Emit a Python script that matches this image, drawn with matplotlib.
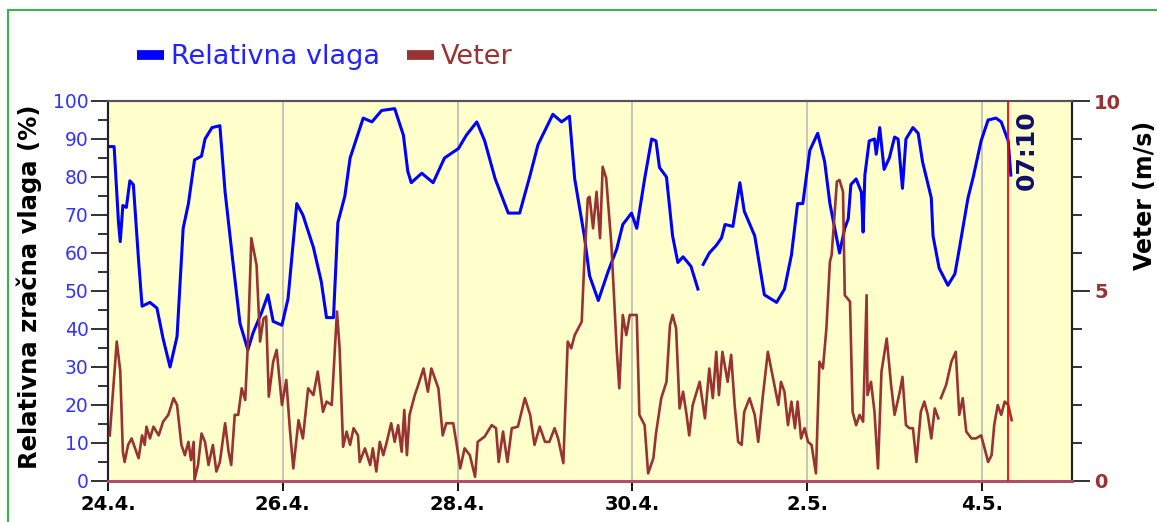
import matplotlib
matplotlib.use('Agg')
import matplotlib.pyplot as plt
import numpy as np
from matplotlib.lines import Line2D

# ---------------- data (days since 24.4. 00:00) ----------------
tick_days = [0, 2, 4, 6, 8, 10]
tick_labels = ['24.4.', '26.4.', '28.4.', '30.4.', '2.5.', '4.5.']

hum_days = [0.02, 0.07, 0.12, 0.14, 0.17, 0.21, 0.25, 0.29, 0.35, 0.39,
            0.48, 0.56, 0.63, 0.71, 0.79, 0.86, 0.92, 0.99, 1.07, 1.11,
            1.19, 1.28, 1.34, 1.43, 1.51, 1.60, 1.66, 1.76, 1.83, 1.89,
            1.99, 2.06, 2.16, 2.23, 2.35, 2.44, 2.50, 2.58, 2.63, 2.71,
            2.77, 2.82, 2.92, 3.02, 3.13, 3.28, 3.38, 3.43, 3.47, 3.59,
            3.72, 3.85, 4.01, 4.10, 4.22, 4.31, 4.43, 4.58, 4.71, 4.83,
            4.92, 5.09, 5.19, 5.28, 5.34, 5.45, 5.51, 5.61, 5.72, 5.82,
            5.89, 5.99, 6.05, 6.14, 6.22, 6.27, 6.31, 6.39, 6.46, 6.52,
            6.58, 6.67, 6.75, 6.78, 6.81, 6.88, 6.96, 7.02, 7.06, 7.15,
            7.23, 7.28, 7.40, 7.51, 7.65, 7.74, 7.82, 7.89, 7.95, 8.03,
            8.12, 8.20, 8.26, 8.37, 8.43, 8.47, 8.50, 8.56, 8.62, 8.64,
            8.66, 8.71, 8.77, 8.79, 8.83, 8.88, 8.94, 9.00, 9.04, 9.09,
            9.13, 9.21, 9.27, 9.32, 9.42, 9.44, 9.51, 9.61, 9.69, 9.74,
            9.84, 9.90, 9.99, 10.07, 10.16, 10.22, 10.30, 10.33]
hum_vals = [88, 88, 68, 63, 72.5, 72, 79, 78, 58, 46,
            47, 45.5, 37.5, 30, 38, 66.5, 73, 84.5, 85.5, 90,
            93, 93.5, 76, 57.5, 41.5, 34.5, 39, 44.5, 49, 42,
            41, 48, 73, 70, 61.5, 52.5, 43, 43, 68, 75,
            85, 88.5, 95.5, 94.5, 97.5, 98, 91, 81.5, 78.5, 81,
            78.5, 85, 87.5, 91, 94.5, 89.5, 79.5, 70.5, 70.5, 80.5,
            88.5, 96.5, 94.5, 96, 79.5, 64.5, 54, 47.5, 55, 61,
            67.5, 70.5, 66.5, 79.5, 90, 89.5, 82.5, 80, 64.5, 57.5,
            59, 56.5, 50.5, np.nan, 57, 60, 62, 64, 67.5, 67,
            78.5, 71, 64.5, 49, 47, 50.5, 59.5, 73, 73, 87,
            91.5, 84, 73, 60, 66.5, 69, 78, 79.5, 76, 65.5,
            80.5, 89.5, 90, 86, 93, 82, 85, 90.5, 90, 77,
            90, 93, 91.5, 84, 74.5, 64.5, 56, 51.5, 54.5, 61,
            74.5, 80, 89.5, 95, 95.5, 94.5, 89.5, 80.5]

wind_days = [0.02, 0.10, 0.14, 0.17, 0.19, 0.23, 0.27, 0.31, 0.35, 0.39,
             0.42, 0.44, 0.48, 0.52, 0.58, 0.63, 0.69, 0.75, 0.79, 0.84,
             0.88, 0.92, 0.95, 0.98, 0.99, 1.03, 1.07, 1.11, 1.15, 1.20,
             1.24, 1.28, 1.34, 1.38, 1.41, 1.45, 1.49, 1.53, 1.57, 1.60,
             1.64, 1.70, 1.74, 1.78, 1.81, 1.84, 1.89, 1.93, 1.99, 2.04,
             2.08, 2.12, 2.18, 2.23, 2.29, 2.35, 2.40, 2.46, 2.50, 2.56,
             2.62, 2.65, 2.69, 2.73, 2.77, 2.81, 2.86, 2.88, 2.94, 3.00,
             3.03, 3.07, 3.11, 3.15, 3.19, 3.24, 3.28, 3.32, 3.36, 3.39,
             3.42, 3.45, 3.51, 3.55, 3.61, 3.66, 3.70, 3.78, 3.83, 3.87,
             3.95, 3.99, 4.03, 4.08, 4.14, 4.20, 4.23, 4.31, 4.39, 4.44,
             4.47, 4.52, 4.57, 4.62, 4.69, 4.77, 4.83, 4.88, 4.94, 5.00,
             5.05, 5.11, 5.15, 5.21, 5.26, 5.30, 5.34, 5.42, 5.45, 5.49,
             5.51, 5.55, 5.59, 5.63, 5.66, 5.70, 5.76, 5.82, 5.85, 5.89,
             5.93, 5.97, 6.05, 6.08, 6.14, 6.18, 6.24, 6.27, 6.33, 6.39,
             6.43, 6.46, 6.50, 6.54, 6.58, 6.62, 6.65, 6.69, 6.77, 6.83,
             6.88, 6.92, 6.96, 6.99, 7.03, 7.09, 7.13, 7.17, 7.21, 7.25,
             7.28, 7.34, 7.40, 7.44, 7.49, 7.55, 7.61, 7.67, 7.70, 7.74,
             7.78, 7.82, 7.86, 7.89, 7.93, 7.97, 8.01, 8.05, 8.10, 8.14,
             8.18, 8.22, 8.26, 8.28, 8.34, 8.37, 8.41, 8.43, 8.49, 8.52,
             8.56, 8.60, 8.64, 8.68, 8.69, 8.73, 8.77, 8.81, 8.85, 8.91,
             8.96, 9.00, 9.06, 9.09, 9.13, 9.17, 9.21, 9.25, 9.30, 9.34,
             9.38, 9.42, 9.46, 9.50, 9.515, 9.53, 9.59, 9.65, 9.70, 9.74,
             9.78, 9.82, 9.88, 9.93, 9.99, 10.03, 10.07, 10.11, 10.14, 10.18,
             10.22, 10.26, 10.30, 10.34]
wind_vals = [1.2, 3.67, 2.9, 0.77, 0.5, 0.95, 1.12, 0.86, 0.6, 1.2,
             0.95, 1.43, 1.12, 1.43, 1.2, 1.56, 1.74, 2.18, 2.0, 0.95,
             0.68, 1.03, 0.55, 1.03, 0.03, 0.42, 1.25, 1.03, 0.42, 0.95,
             0.25, 0.5, 1.52, 0.77, 0.42, 1.74, 1.74, 2.44, 2.13, 3.58,
             6.39, 5.68, 3.67, 4.28, 4.33, 2.22, 3.14, 3.45, 2.0, 2.66,
             1.39, 0.33, 1.6, 1.12, 2.44, 2.26, 2.88, 1.82, 2.09, 2.0,
             4.46, 3.49, 0.9, 1.3, 0.95, 1.39, 1.2, 0.5, 0.86, 0.42,
             0.86, 0.25, 1.03, 0.68, 1.03, 1.52, 1.03, 1.47, 0.77, 1.87,
             0.68, 1.74, 2.26, 2.53, 2.96, 2.35, 2.96, 2.44, 1.2, 1.52,
             1.52, 0.95, 0.33, 0.86, 0.68, 0.11, 1.03, 1.17, 1.47, 1.39,
             0.5, 1.3, 0.5, 1.39, 1.43, 2.18, 1.74, 0.95, 1.43, 1.03,
             1.03, 1.39, 1.12, 0.47, 3.67, 3.49, 3.84, 4.19, 5.77, 7.44,
             7.48, 6.65, 7.61, 6.39, 8.27, 7.97, 6.21, 3.49, 2.44, 4.37,
             3.84, 4.37, 4.37, 1.74, 1.47, 0.2, 0.6, 1.25, 2.18, 2.61,
             4.1, 4.37, 4.02, 1.91, 2.35, 1.74, 1.2, 2.0, 2.61, 1.65,
             2.96, 2.18, 3.4, 2.26, 3.4, 2.61, 3.32, 2.0, 1.03, 0.95,
             1.82, 2.18, 1.74, 1.03, 2.18, 3.4, 2.7, 2.0, 2.61, 2.35,
             1.47, 2.09, 1.39, 2.09, 1.12, 1.39, 1.03, 0.95, 0.2, 3.14,
             2.96, 4.02, 5.77, 5.95, 7.88, 7.92, 7.61, 4.89, 4.72, 1.82,
             1.47, 1.74, 1.56, 4.89, 2.26, 2.61, 1.82, 0.33, 2.88, 3.75,
             2.53, 1.74, 2.35, 2.74, 1.47, 1.39, 1.39, 0.5, 1.82, 2.09,
             1.74, 1.12, 1.91, 1.65, np.nan, 2.18, 2.53, 3.14, 3.4, 1.74,
             2.18, 1.3, 1.12, 1.12, 1.2, 0.86, 0.5, 0.68, 1.47, 2.0,
             1.74, 2.09, 2.0, 1.6]

now_day = 10.30          # 4.5. 07:10
now_label = '07:10'
x_end = 11.03

assert len(hum_days) == len(hum_vals)
assert len(wind_days) == len(wind_vals)

# ---------------- styling ----------------
plt.rcParams['font.family'] = ['DejaVu Sans']
BLUE = '#0000ff'
BROWN = '#993333'
W, H = 1157, 522

fig = plt.figure(figsize=(W / 100, H / 100), dpi=100)
fig.patch.set_facecolor('white')
ax = fig.add_axes([108 / W, 1 - 481 / H, (1072 - 108) / W, (481 - 101) / H])
ax.set_facecolor('#ffffcc')
ax.set_axisbelow(True)

ax.plot(hum_days, hum_vals, color=BLUE, lw=2.2, zorder=3)
ax.set_xlim(0, x_end)
ax.set_ylim(0, 100)
ax.set_xticks(tick_days, tick_labels)
ax.grid(axis='x', color='#bbbbbb', lw=1.2)
ax.set_yticks(range(0, 101, 10))
ax.set_yticks(range(5, 100, 10), minor=True)
ax.tick_params(axis='x', length=7, width=1.3, labelsize=14, pad=3, colors='black')
for lbl in ax.get_xticklabels():
    lbl.set_fontweight('bold')
ax.tick_params(axis='y', which='major', length=12, width=1.3, labelsize=13.5,
               labelcolor='#3333ff', color='#222222', pad=2)
ax.tick_params(axis='y', which='minor', length=7, width=1.3, color='#222222')

ax2 = ax.twinx()
ax2.plot(wind_days, wind_vals, color=BROWN, lw=1.9, zorder=3)
ax2.set_ylim(0, 10)
ax2.set_yticks([0, 5, 10])
ax2.set_yticks([1, 2, 3, 4, 6, 7, 8, 9], minor=True)
ax2.tick_params(axis='y', which='major', length=13, width=1.3, labelsize=14,
                labelcolor=BROWN, color='#222222', pad=3)
ax2.tick_params(axis='y', which='minor', length=7, width=1.3, color='#222222')
for lbl in ax2.get_yticklabels():
    lbl.set_fontweight('bold')

for a in (ax, ax2):
    a.spines['bottom'].set_color('#b04c6c')
    a.spines['bottom'].set_linewidth(2)
    a.spines['top'].set_color('#555555')
    a.spines['top'].set_linewidth(1.5)
    a.spines['left'].set_color('#222222')
    a.spines['left'].set_linewidth(1.5)
    a.spines['right'].set_color('#222222')
    a.spines['right'].set_linewidth(1.5)

ax.yaxis.get_major_ticks()[0].tick1line.set_color('#b04c6c')
ax2.yaxis.get_major_ticks()[0].tick2line.set_color('#5599ff')

ax2.axvline(now_day, color='red', lw=1.3, zorder=5)
ax2.annotate(now_label, xy=(now_day, 1), xycoords=('data', 'axes fraction'),
             xytext=(5, -7), textcoords='offset points', rotation=90,
             ha='left', va='top', fontsize=18, fontweight='bold', color='#10106a')

fig.text(16 / W, 1 - 287 / H, 'Relativna zračna vlaga (%)', rotation=90,
         ha='left', va='center', fontsize=17.5, fontweight='bold', color='black')
fig.text(1133 / W, 1 - 195 / H, 'Veter (m/s)', rotation=90,
         ha='left', va='center', fontsize=17, fontweight='bold', color='black')

handles = [Line2D([], [], color=BLUE, lw=7, solid_capstyle='butt'),
           Line2D([], [], color=BROWN, lw=7, solid_capstyle='butt')]
fig.legend(handles, ['Relativna vlaga', 'Veter'], loc='center',
           bbox_to_anchor=(325 / W, 1 - 57 / H), ncol=2, frameon=False,
           fontsize=19.5, handlelength=1.0, handletextpad=0.25,
           columnspacing=1.0, labelcolor=['#2222ff', BROWN])

# green outer frame
fig.add_artist(Line2D([8 / W, 8 / W], [0, 1 - 10 / H], color='#3cb44b', lw=1.5,
                      transform=fig.transFigure))
fig.add_artist(Line2D([8 / W, 1], [1 - 10 / H, 1 - 10 / H], color='#3cb44b', lw=1.5,
                      transform=fig.transFigure))

fig.savefig('out.png', dpi=100)
